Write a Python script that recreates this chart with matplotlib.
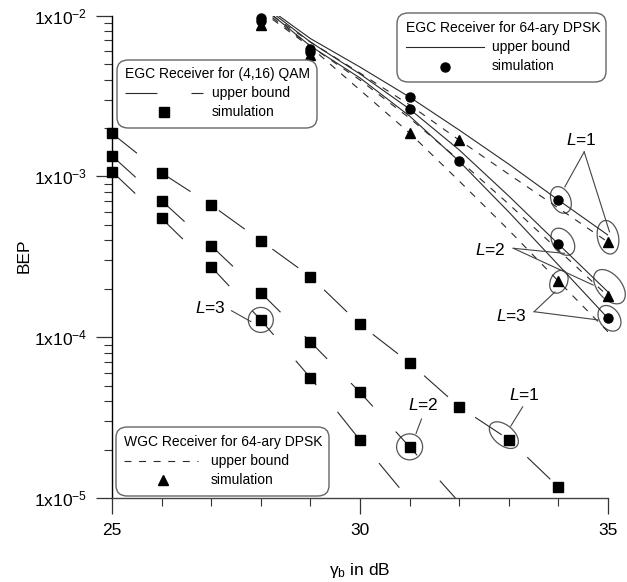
import numpy as np
import matplotlib.pyplot as plt
import matplotlib.ticker as ticker
from matplotlib.lines import Line2D
from matplotlib.patches import Ellipse, Circle, FancyBboxPatch
from matplotlib.transforms import ScaledTranslation

plt.rcParams.update({
    "font.family": "Liberation Sans",
    "mathtext.fontset": "custom",
    "mathtext.rm": "Liberation Sans",
    "mathtext.it": "Liberation Sans:italic",
    "lines.scale_dashes": False,
})

# ---- data ----
# EGC receiver, (4,16) QAM: simulation points and upper bound
snr_qam_L1 = [25, 26, 27, 28, 29, 30, 31, 32, 33, 34]
qam_sim_L1 = [1.85e-3, 1.05e-3, 6.64e-4, 3.98e-4, 2.38e-4, 1.20e-4, 6.93e-5, 3.69e-5, 2.31e-5, 1.17e-5]
snr_qam_L2 = [25, 26, 27, 28, 29, 30, 31]
qam_sim_L2 = [1.34e-3, 7.05e-4, 3.70e-4, 1.89e-4, 9.35e-5, 4.54e-5, 2.08e-5]
snr_qam_L3 = [25, 26, 27, 28, 29, 30]
qam_sim_L3 = [1.07e-3, 5.48e-4, 2.74e-4, 1.28e-4, 5.59e-5, 2.29e-5]

snr_qam_ub_L1 = [25, 26, 27, 28, 29, 30, 31, 32, 33, 34, 35]
qam_ub_L1 = [1.85e-3, 1.05e-3, 6.64e-4, 3.98e-4, 2.38e-4, 1.20e-4, 6.93e-5, 3.69e-5, 2.31e-5, 1.17e-5, 6.1e-6]
snr_qam_ub_L2 = [25, 26, 27, 28, 29, 30, 31, 32]
qam_ub_L2 = [1.34e-3, 7.05e-4, 3.70e-4, 1.89e-4, 9.35e-5, 4.54e-5, 2.08e-5, 9.4e-6]
snr_qam_ub_L3 = [25, 26, 27, 28, 29, 30, 31]
qam_ub_L3 = [1.07e-3, 5.48e-4, 2.74e-4, 1.28e-4, 5.59e-5, 2.29e-5, 9.7e-6]

# 64-ary DPSK upper bounds (EGC solid, WGC dashed)
snr_dpsk = [28, 29, 30, 31, 32, 33, 34, 35]
egc_ub_L1 = [1.20e-2, 7.19e-3, 4.78e-3, 3.11e-3, 1.94e-3, 1.19e-3, 7.12e-4, 4.31e-4]
egc_ub_L2 = [1.18e-2, 6.84e-3, 4.33e-3, 2.62e-3, 1.46e-3, 7.54e-4, 3.79e-4, 1.91e-4]
egc_ub_L3 = [1.15e-2, 6.46e-3, 4.09e-3, 2.37e-3, 1.24e-3, 6.00e-4, 2.81e-4, 1.31e-4]
wgc_ub_L1 = [1.12e-2, 6.84e-3, 4.39e-3, 2.78e-3, 1.68e-3, 1.03e-3, 6.35e-4, 3.90e-4]
wgc_ub_L2 = [1.10e-2, 6.46e-3, 3.97e-3, 2.30e-3, 1.26e-3, 6.72e-4, 3.48e-4, 1.80e-4]
wgc_ub_L3 = [1.07e-2, 6.37e-3, 3.44e-3, 1.86e-3, 9.35e-4, 4.63e-4, 2.23e-4, 1.08e-4]

# 64-ary DPSK simulation points
snr_egc_sim_L1 = [28, 29, 31, 34]
egc_sim_L1 = [9.6e-3, 6.2e-3, 3.10e-3, 7.13e-4]
snr_egc_sim_L2 = [28, 29, 31, 34]
egc_sim_L2 = [9.25e-3, 5.93e-3, 2.61e-3, 3.77e-4]
snr_egc_sim_L3 = [32, 35]
egc_sim_L3 = [1.24e-3, 1.31e-4]
snr_wgc_sim_L1 = [32, 35]
wgc_sim_L1 = [1.68e-3, 3.89e-4]
snr_wgc_sim_L2 = [35]
wgc_sim_L2 = [1.81e-4]
snr_wgc_sim_L3 = [28, 29, 31, 34]
wgc_sim_L3 = [8.75e-3, 5.67e-3, 1.85e-3, 2.23e-4]

W, H = 627, 582
fig = plt.figure(figsize=(W / 100, H / 100), dpi=100)
ax = fig.add_axes([112 / W, 1 - 498 / H, (608 - 112) / W, (498 - 15.5) / H])


def fx(px):
    return px / W


def fy(py):
    return 1 - py / H


LC = "#2a2a2a"
long_dash = (0, (23, 24.5))
short_dash = (0, (5, 5.5))

# QAM bounds + sims
for xs, ys in [(snr_qam_ub_L1, qam_ub_L1), (snr_qam_ub_L2, qam_ub_L2), (snr_qam_ub_L3, qam_ub_L3)]:
    ax.plot(xs, ys, color=LC, lw=0.8, linestyle=long_dash)
for xs, ys in [(snr_qam_L1, qam_sim_L1), (snr_qam_L2, qam_sim_L2), (snr_qam_L3, qam_sim_L3)]:
    ax.plot(xs, ys, "s", color="black", ms=7.5, clip_on=False)

# DPSK bounds
for ys in [egc_ub_L1, egc_ub_L2, egc_ub_L3]:
    ax.plot(snr_dpsk, ys, color=LC, lw=0.8)
for ys in [wgc_ub_L1, wgc_ub_L2, wgc_ub_L3]:
    ax.plot(snr_dpsk, ys, color=LC, lw=0.8, linestyle=short_dash)

for xs, ys in [(snr_egc_sim_L1, egc_sim_L1), (snr_egc_sim_L2, egc_sim_L2), (snr_egc_sim_L3, egc_sim_L3)]:
    ax.plot(xs, ys, "o", color="black", ms=6.5, clip_on=False)
for xs, ys in [(snr_wgc_sim_L1, wgc_sim_L1), (snr_wgc_sim_L2, wgc_sim_L2), (snr_wgc_sim_L3, wgc_sim_L3)]:
    ax.plot(xs, ys, "^", color="black", ms=6.5, clip_on=False)

# axes
ax.set_yscale("log")
ax.set_xlim(25, 35)
ax.set_ylim(1e-5, 1e-2)
ax.xaxis.set_major_locator(ticker.FixedLocator([25, 30, 35]))
ax.xaxis.set_minor_locator(ticker.MultipleLocator(1))
ax.yaxis.set_major_locator(ticker.FixedLocator([1e-5, 1e-4, 1e-3, 1e-2]))
ax.yaxis.set_minor_locator(ticker.LogLocator(base=10, subs=np.arange(2, 10)))
ax.yaxis.set_minor_formatter(ticker.NullFormatter())
ax.set_yticklabels([r"1x10$^{\mathregular{-5}}$", r"1x10$^{\mathregular{-4}}$",
                    r"1x10$^{\mathregular{-3}}$", r"1x10$^{\mathregular{-2}}$"])
ax.set_xticklabels(["25", "30", "35"])
ax.tick_params(which="major", direction="out", length=11.5, width=0.9, pad=6.5, labelsize=12.5, color="#333")
ax.tick_params(which="minor", direction="out", length=6, width=0.8, color="#333")
for s in ["top", "right"]:
    ax.spines[s].set_visible(False)
ax.spines["left"].set_linewidth(1.0)
ax.spines["bottom"].set_linewidth(1.0)
ax.spines["bottom"].set_color("#444")
ax.patch.set_visible(False)

fig.text(fx(24), fy(256), "BEP", rotation=90, ha="center", va="center", fontsize=12.5)
fig.text(fx(360), fy(570), r"γ$_{\mathregular{b}}$ in dB", ha="center", va="center", fontsize=12.5)


# ---- legend boxes ----
def box(x0, y0, x1, y1):
    fig.patches.append(FancyBboxPatch((fx(x0), fy(y1)), fx(x1) - fx(x0), fy(y0) - fy(y1),
                                      boxstyle="round,pad=0,rounding_size=0.018",
                                      transform=fig.transFigure, fc="white", ec="#666", lw=1.0, zorder=5))


def ftext(px, py, s, **kw):
    fig.text(fx(px), fy(py), s, ha="left", va="center", fontsize=10, zorder=6, **kw)


box(117, 60, 317, 128)
ftext(125, 74, "EGC Receiver for (4,16) QAM")
fig.add_artist(Line2D([fx(125), fx(203)], [fy(93), fy(93)], color=LC, lw=0.8, linestyle=long_dash, zorder=6))
ftext(212, 93, "upper bound")
fig.add_artist(Line2D([fx(164)], [fy(112)], marker="s", color="black", ms=7.5, zorder=6))
ftext(212, 112, "simulation")

box(397, 13, 606, 82)
ftext(406, 28, "EGC Receiver for 64-ary DPSK")
fig.add_artist(Line2D([fx(406), fx(484)], [fy(47), fy(47)], color=LC, lw=0.8, zorder=6))
ftext(492, 47, "upper bound")
fig.add_artist(Line2D([fx(445)], [fy(67)], marker="o", color="black", ms=6.5, zorder=6))
ftext(492, 66, "simulation")

box(116, 427, 329, 496)
ftext(124, 442, "WGC Receiver for 64-ary DPSK")
fig.add_artist(Line2D([fx(124), fx(198)], [fy(461), fy(461)], color=LC, lw=0.8, linestyle=short_dash, zorder=6))
ftext(211, 461, "upper bound")
fig.add_artist(Line2D([fx(163)], [fy(480)], marker="^", color="black", ms=6.5, zorder=6))
ftext(211, 480, "simulation")


# ---- L annotations ----
def ring(x, y, w, h, angle=0):
    tr = fig.dpi_scale_trans + ScaledTranslation(x, y, ax.transData)
    ax.add_patch(Ellipse((0, 0), w / 100, h / 100, angle=angle, transform=tr,
                         fill=False, ec="#555", lw=0.9, clip_on=False))


def label(x, y, n):
    ax.text(x, y, r"$\mathit{L}$=%d" % n, ha="center", va="center", fontsize=12.5)


def pointer(x0, y0, x1, y1):
    ax.plot([x0, x1], [y0, y1], color="#444", lw=0.8, clip_on=False)


# QAM
label(26.98, 1.51e-4, 3)
pointer(27.41, 1.46e-4, 27.80, 1.25e-4)
ring(28, 1.28e-4, 25, 25)
label(31.27, 3.78e-5, 2)
pointer(31.24, 3.10e-5, 31.13, 2.52e-5)
ring(31, 2.08e-5, 26, 26)
label(33.31, 4.37e-5, 1)
pointer(33.28, 3.69e-5, 33.04, 2.80e-5)
ring(32.90, 2.46e-5, 34, 20, -40)

# DPSK
label(34.47, 1.68e-3, 1)
pointer(34.52, 1.42e-3, 34.13, 8.61e-4)
pointer(34.52, 1.42e-3, 35.03, 4.52e-4)
ring(34.05, 7.13e-4, 28, 19, -65)
ring(35.0, 4.18e-4, 34, 21, -78)

label(32.62, 3.48e-4, 2)
pointer(33.09, 3.57e-4, 34.12, 3.32e-4)
pointer(33.09, 3.57e-4, 34.70, 2.11e-4)
ring(34.09, 3.92e-4, 30, 20, -55)
ring(35.03, 2.06e-4, 40, 24, -50)

label(33.06, 1.35e-4, 3)
pointer(33.51, 1.44e-4, 33.93, 1.91e-4)
pointer(33.51, 1.44e-4, 34.80, 1.28e-4)
ring(34.01, 2.21e-4, 17, 24, -25)
ring(35.03, 1.31e-4, 28, 20, -55)

fig.savefig("out.png", dpi=100)
